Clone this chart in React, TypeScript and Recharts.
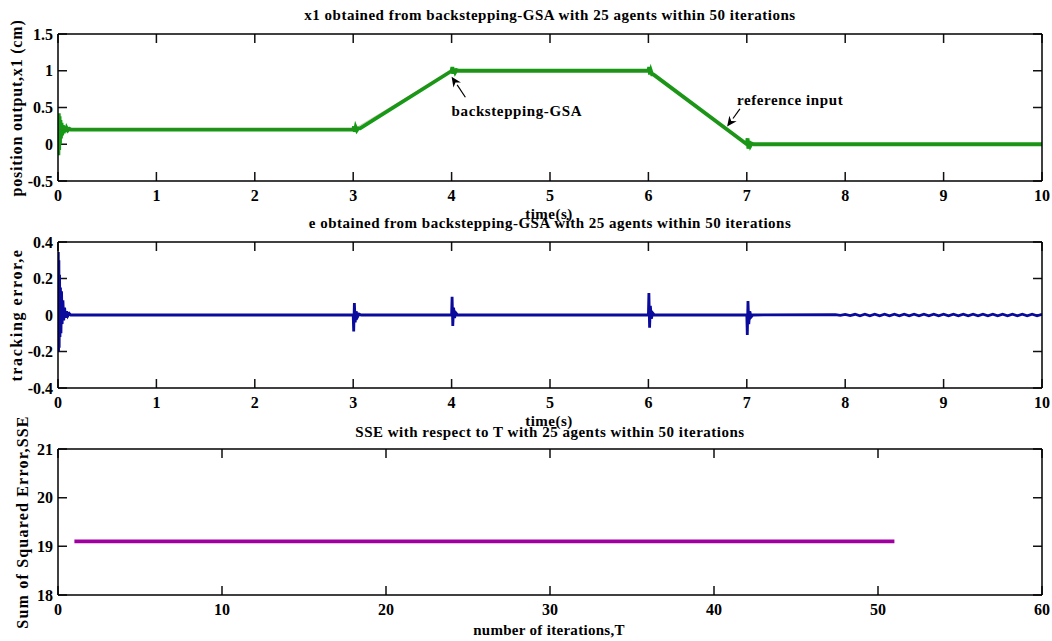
import React from 'react';
import { LineChart, Line, XAxis, YAxis, ReferenceLine, ReferenceDot, CartesianGrid } from 'recharts';

// ---------- Data ----------
// Panel 1: position output x1 (backstepping-GSA)
const x1Time = [
  0, 0.004, 0.008, 0.012, 0.016, 0.02, 0.025, 0.03, 0.036, 0.042, 0.05, 0.058, 0.067, 0.077, 0.088, 0.1, 0.115, 0.13,
  2.99, 3.0, 3.008, 3.016, 3.025, 3.037, 3.05, 3.07,
  3.99, 4.0, 4.008, 4.016, 4.025, 4.037, 4.05, 4.07,
  5.99, 6.0, 6.008, 6.016, 6.025, 6.037, 6.05, 6.07,
  6.99, 7.0, 7.008, 7.016, 7.025, 7.037, 7.05, 7.07, 10,
];
const x1Values = [
  0.2, -0.15, 0.42, -0.08, 0.38, 0.0, 0.33, 0.08, 0.29, 0.12, 0.26, 0.15, 0.24, 0.17, 0.22, 0.19, 0.21, 0.2,
  0.2, 0.2, 0.24, 0.17, 0.23, 0.19, 0.215, 0.215,
  0.99, 1.0, 1.05, 0.96, 1.03, 0.98, 1.01, 1.0,
  1.0, 1.0, 1.05, 0.95, 1.0, 0.95, 0.95, 0.93,
  0.01, 0.0, 0.08, -0.06, 0.04, -0.02, 0.01, 0.0, 0.0,
];
// reference input trajectory
const refTime = [0, 3, 4, 6, 7, 10];
const refValues = [0.2, 0.2, 1.0, 1.0, 0.0, 0.0];

// Panel 2: tracking error e
const eTime = [
  0, 0.003, 0.006, 0.009, 0.012, 0.016, 0.02, 0.025, 0.03, 0.036, 0.042, 0.05, 0.058, 0.067, 0.077, 0.088, 0.1, 0.115, 0.13,
  2.99, 3.0, 3.005, 3.012, 3.02, 3.03, 3.045, 3.06, 3.08,
  3.99, 4.0, 4.005, 4.012, 4.02, 4.03, 4.045, 4.06,
  5.99, 6.0, 6.005, 6.012, 6.02, 6.03, 6.045, 6.06,
  6.99, 7.0, 7.005, 7.012, 7.02, 7.03, 7.045, 7.06,
  7.9, 7.95, 8.0, 8.05, 8.1, 8.15, 8.2, 8.25, 8.3, 8.35, 8.4, 8.45, 8.5, 8.55, 8.6, 8.65, 8.7, 8.75, 8.8, 8.85, 8.9, 8.95,
  9.0, 9.05, 9.1, 9.15, 9.2, 9.25, 9.3, 9.35, 9.4, 9.45, 9.5, 9.55, 9.6, 9.65, 9.7, 9.75, 9.8, 9.85, 9.9, 9.95, 10.0,
];
const eValues = [
  0, 0.345, -0.2, 0.3, -0.18, 0.22, -0.12, 0.15, -0.1, 0.13, -0.05, 0.08, -0.03, 0.04, -0.015, 0.02, -0.005, 0.008, 0,
  0, 0, -0.09, 0.066, -0.04, 0.02, -0.01, 0.005, 0,
  0, 0, 0.1, -0.06, 0.04, -0.015, 0.01, 0,
  0, 0, 0.12, -0.07, 0.05, -0.02, 0.01, 0,
  0, 0, -0.11, 0.077, -0.05, 0.02, -0.01, 0,
  0.002, -0.002, 0.003, -0.003, 0.004, -0.004, 0.004, -0.004, 0.004, -0.004, 0.004, -0.004, 0.004, -0.004, 0.004, -0.004, 0.004, -0.004, 0.004, -0.004, 0.004, -0.004,
  0.004, -0.004, 0.004, -0.004, 0.004, -0.004, 0.004, -0.004, 0.004, -0.004, 0.004, -0.004, 0.004, -0.004, 0.004, -0.004, 0.004, -0.004, 0.004, -0.004, 0.004,
];

// Panel 3: SSE vs iterations
const iterT = [
  1, 2, 3, 4, 5, 6, 7, 8, 9, 10, 11, 12, 13, 14, 15, 16, 17, 18, 19, 20, 21, 22, 23, 24, 25,
  26, 27, 28, 29, 30, 31, 32, 33, 34, 35, 36, 37, 38, 39, 40, 41, 42, 43, 44, 45, 46, 47, 48, 49, 50, 51,
];
const sseValues = [
  19.1, 19.1, 19.1, 19.1, 19.1, 19.1, 19.1, 19.1, 19.1, 19.1, 19.1, 19.1, 19.1, 19.1, 19.1, 19.1, 19.1,
  19.1, 19.1, 19.1, 19.1, 19.1, 19.1, 19.1, 19.1, 19.1, 19.1, 19.1, 19.1, 19.1, 19.1, 19.1, 19.1, 19.1,
  19.1, 19.1, 19.1, 19.1, 19.1, 19.1, 19.1, 19.1, 19.1, 19.1, 19.1, 19.1, 19.1, 19.1, 19.1, 19.1, 19.1,
];

const timeTicks = [0, 1, 2, 3, 4, 5, 6, 7, 8, 9, 10];
const x1Ticks = [-0.5, 0, 0.5, 1, 1.5];
const eTicks = [-0.4, -0.2, 0, 0.2, 0.4];
const iterTicks = [0, 10, 20, 30, 40, 50, 60];
const sseTicks = [18, 19, 20, 21];

const titles = [
  'x1 obtained from backstepping-GSA with 25 agents within 50 iterations',
  'e obtained from backstepping-GSA with 25 agents within 50 iterations',
  'SSE with respect to T with 25 agents within 50 iterations',
];

// ---------- Build data tables ----------
const x1Data = x1Time.map((t, i) => ({ t, x1: x1Values[i] }));
const refData = refTime.map((t, i) => ({ t, ref: refValues[i] }));
const eData = eTime.map((t, i) => ({ t, e: eValues[i] }));
const sseData = iterT.map((t, i) => ({ t, sse: sseValues[i] }));

const FONT = 'Liberation Serif, Times New Roman, serif';
const labelStyle = { fontSize: 16, fontWeight: 'bold' as const, fill: '#000', fontFamily: FONT };
const axisLine = { stroke: '#000', strokeWidth: 1.5 };
const STUB = 9;
const PLOT_W = 984;

// tick labels
const BottomTick = (p: any) => (
  <text x={p.x} y={p.y + 14} textAnchor="middle" dominantBaseline="central" style={labelStyle}>
    {String(p.payload.value)}
  </text>
);
const LeftTick = (p: any) => (
  <text x={p.x - 5} y={p.y} textAnchor="end" dominantBaseline="central" style={labelStyle}>
    {String(p.payload.value)}
  </text>
);

const W = 1052;
const margin = { top: 33, right: 9, bottom: 0, left: 0 };

function axes(xTicks: number[], xDomain: number[], yTicks: number[], yDomain: number[], plotH: number) {
  return [
    <XAxis key="xb" xAxisId="b" type="number" dataKey="t" domain={xDomain} ticks={xTicks} allowDataOverflow
      height={26} tickSize={0} tickMargin={0} tick={BottomTick} axisLine={axisLine} tickLine={false} interval={0} />,
    <XAxis key="xt" xAxisId="t" orientation="top" type="number" dataKey="t" domain={xDomain} ticks={xTicks} allowDataOverflow
      height={1} tick={false} axisLine={axisLine} tickLine={false} interval={0} />,
    <YAxis key="yl" yAxisId="l" type="number" domain={yDomain} ticks={yTicks} allowDataOverflow
      width={58} tickSize={0} tickMargin={0} tick={LeftTick} axisLine={axisLine} tickLine={false} interval={0} />,
    <YAxis key="yr" yAxisId="r" orientation="right" type="number" domain={yDomain} ticks={yTicks} allowDataOverflow
      width={1} tick={false} axisLine={axisLine} tickLine={false} interval={0} />,
    // inward MATLAB-style tick marks: grid lines dashed so only short stubs remain at both ends
    <CartesianGrid key="gv" xAxisId="b" yAxisId="l" horizontal={false} vertical
      stroke="#111" strokeWidth={1.5} strokeDasharray={`${STUB} ${plotH - 2 * STUB} ${STUB} 2000`} />,
    <CartesianGrid key="gh" xAxisId="b" yAxisId="l" vertical={false} horizontal
      stroke="#111" strokeWidth={1.5} strokeDasharray={`${STUB} ${PLOT_W - 2 * STUB} ${STUB} 2000`} />,
  ];
}

const arrowShape = (props: any) => {
  const { x1, y1, x2, y2 } = props;
  const dx = x2 - x1;
  const dy = y2 - y1;
  const len = Math.sqrt(dx * dx + dy * dy) || 1;
  const ux = dx / len;
  const uy = dy / len;
  const hl = 10;
  const hw = 4.5;
  const bx = x2 - ux * hl;
  const by = y2 - uy * hl;
  const p1 = `${x2},${y2}`;
  const p2 = `${bx - uy * hw},${by + ux * hw}`;
  const p3 = `${bx + uy * hw},${by - ux * hw}`;
  return (
    <g>
      <line x1={x1} y1={y1} x2={bx} y2={by} stroke="#000" strokeWidth={1.2} />
      <polygon points={`${p1} ${p2} ${x2 - ux * 7},${y2 - uy * 7} ${p3}`} fill="#000" />
    </g>
  );
};

const textShape = (label: string) => (props: any) => (
  <text x={props.cx} y={props.cy} dominantBaseline="central" textAnchor="start" letterSpacing={0.6}
    style={{ fontSize: 15, fontWeight: 'bold', fontFamily: FONT, fill: '#000' }}>{label}</text>
);

export default function App() {
  return (
    <div style={{ position: 'absolute', left: 0, top: 0, width: W, height: 641, background: '#fff', fontFamily: FONT }}>
      {/* Panel 1 */}
      <div style={{ position: 'absolute', left: 0, top: 0 }}>
        <LineChart width={W} height={207} margin={margin}>
          {axes(timeTicks, [0, 10], x1Ticks, [-0.5, 1.5], 147)}
          <Line data={x1Data} xAxisId="b" yAxisId="l" dataKey="x1" type="linear" stroke="#159a15" strokeWidth={3.8}
            dot={false} isAnimationActive={false} />
          <Line data={refData} xAxisId="b" yAxisId="l" dataKey="ref" type="linear" stroke="#7a5a30" strokeWidth={0.6}
            strokeOpacity={0.5} dot={false} isAnimationActive={false} />
          <ReferenceLine xAxisId="b" yAxisId="l" segment={[{ x: 4.14, y: 0.64 }, { x: 4.0, y: 0.92 }]} shape={arrowShape} ifOverflow="visible" />
          <ReferenceLine xAxisId="b" yAxisId="l" segment={[{ x: 6.93, y: 0.48 }, { x: 6.8, y: 0.24 }]} shape={arrowShape} ifOverflow="visible" />
          <ReferenceDot xAxisId="b" yAxisId="l" x={4.0} y={0.45} r={0} shape={textShape('backstepping-GSA')} ifOverflow="visible" />
          <ReferenceDot xAxisId="b" yAxisId="l" x={6.9} y={0.6} r={0} shape={textShape('reference input')} ifOverflow="visible" />
        </LineChart>
      </div>
      {/* Panel 2 */}
      <div style={{ position: 'absolute', left: 0, top: 208 }}>
        <LineChart width={W} height={206} margin={margin}>
          {axes(timeTicks, [0, 10], eTicks, [-0.4, 0.4], 146)}
          <Line data={eData} xAxisId="b" yAxisId="l" dataKey="e" type="linear" stroke="#0a0a9c" strokeWidth={2.8}
            dot={false} isAnimationActive={false} />
        </LineChart>
      </div>
      {/* Panel 3 */}
      <div style={{ position: 'absolute', left: 0, top: 415 }}>
        <LineChart width={W} height={206} margin={margin}>
          {axes(iterTicks, [0, 60], sseTicks, [18, 21], 146)}
          <Line data={sseData} xAxisId="b" yAxisId="l" dataKey="sse" type="linear" stroke="#a000a0" strokeWidth={3.8}
            dot={false} isAnimationActive={false} />
        </LineChart>
      </div>
      {/* Texts */}
      <svg width={W} height={641} style={{ position: 'absolute', left: 0, top: 0, pointerEvents: 'none' }}>
        <g style={{ fontFamily: FONT, fontWeight: 'bold', fill: '#000' }}>
          <text x={550} y={15} textAnchor="middle" dominantBaseline="central" fontSize={15} letterSpacing={0.5}>{titles[0]}</text>
          <text x={550} y={223} textAnchor="middle" dominantBaseline="central" fontSize={15} letterSpacing={0.5}>{titles[1]}</text>
          <text x={550} y={432} textAnchor="middle" dominantBaseline="central" fontSize={15} letterSpacing={0.5}>{titles[2]}</text>
          <text x={549} y={214} textAnchor="middle" dominantBaseline="central" fontSize={15} letterSpacing={0.5}>time(s)</text>
          <text x={549} y={421} textAnchor="middle" dominantBaseline="central" fontSize={15} letterSpacing={0.5}>time(s)</text>
          <text x={549} y={630} textAnchor="middle" dominantBaseline="central" fontSize={15} letterSpacing={0.3}>number of iterations,T</text>
          <text transform="translate(16,108) rotate(-90)" textAnchor="middle" dominantBaseline="central" fontSize={16} letterSpacing={0.8}>position output,x1 (cm)</text>
          <text transform="translate(16,315) rotate(-90)" textAnchor="middle" dominantBaseline="central" fontSize={16} letterSpacing={1.6}>tracking error,e</text>
          <text transform="translate(22,522) rotate(-90)" textAnchor="middle" dominantBaseline="central" fontSize={16} letterSpacing={1.2}>Sum of Squared Error,SSE</text>
        </g>
      </svg>
    </div>
  );
}
